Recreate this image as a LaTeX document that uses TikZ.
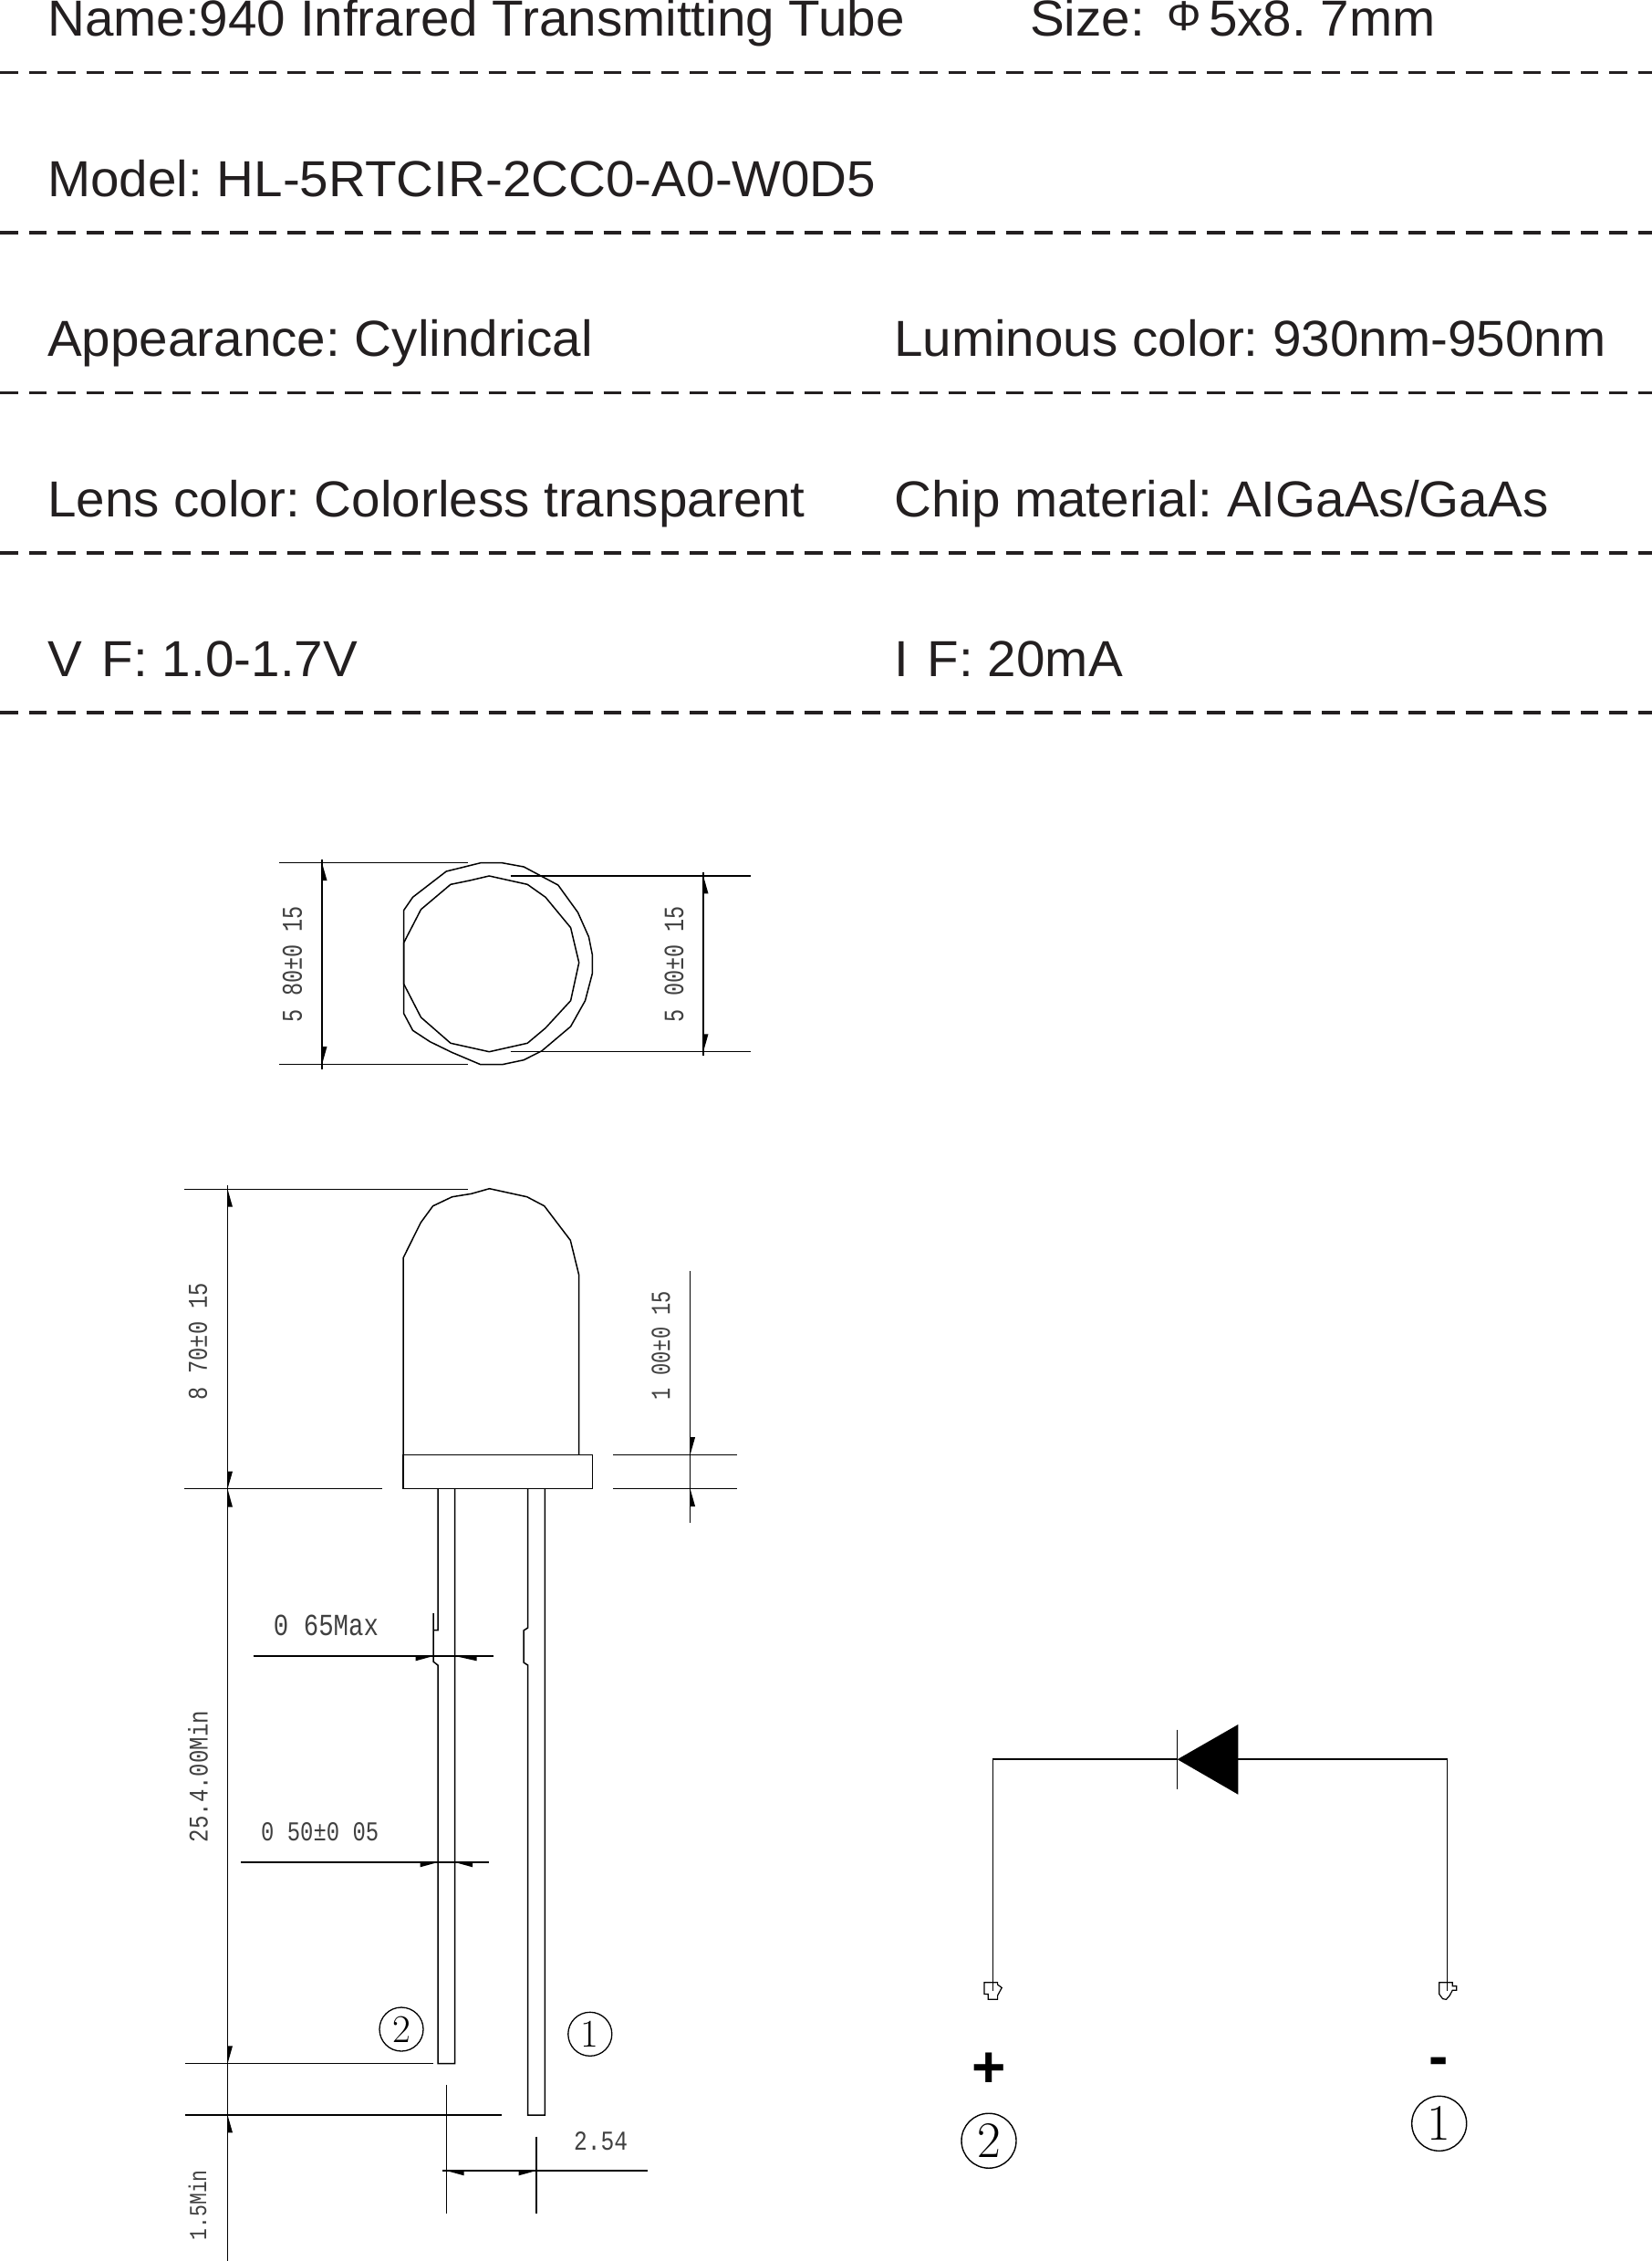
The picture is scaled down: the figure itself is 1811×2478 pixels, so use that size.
\documentclass[tikz,border=0pt]{standalone}
\usepackage{fontspec}
\usepackage{graphicx}
\newfontfamily\headfont[FakeStretch=1.02]{Liberation Sans}
\newfontfamily\markfont{Liberation Sans}
\newfontfamily\cadfont{Liberation Mono}
\definecolor{inkdark}{RGB}{35,31,32}
\newcommand{\cadlabel}[3]{\resizebox{#1pt}{#2pt}{\cadfont #3}}
\tikzset{
    headtext/.style={font=\headfont\fontsize{55.5}{60}\selectfont\frenchspacing, anchor=base west, inner sep=0pt, text=inkdark},
    rowrule/.style={line width=3.4pt, inkdark, dash pattern=on 19.5pt off 12pt},
    bodyline/.style={line width=1.5pt, line join=miter},
    dimline/.style={line width=1.4pt},
    cadtext/.style={inner sep=0pt, text=black!75},
    pinnum/.style={draw, circle, line width=1.3pt, inner sep=0pt, minimum size=48pt, font=\rmfamily\fontsize{43}{43}\selectfont},
    termnum/.style={draw, circle, line width=1.4pt, inner sep=0pt, minimum size=60pt, font=\rmfamily\fontsize{56}{56}\selectfont},
    polmark/.style={inner sep=0pt, font=\markfont\bfseries\fontsize{64}{64}\selectfont},
}
\begin{document}
\begin{tikzpicture}[x=1pt,y=-1pt]
    \useasboundingbox (0,0) rectangle (1811,2478);

    % Header rows
    \node[headtext] (name) at (52,39.5) {Name:940 Infrared Transmitting Tube};
    \node[headtext] (size) at (1129,39.5) {Size:};
    \node[headtext, font=\headfont\fontsize{46}{50}\selectfont] (phi) at (1279,34) {Φ};
    \node[headtext] (sizeval) at (1325,39.5) {5x8. 7mm};
    \node[headtext] (model) at (52,215) {Model: HL-5RTCIR-2CC0-A0-W0D5};
    \node[headtext] (shape) at (52,390.7) {Appearance: Cylindrical};
    \node[headtext] (lumin) at (980,390.7) {Luminous color: 930nm-950nm};
    \node[headtext] (lens) at (52,566.5) {Lens color: Colorless transparent};
    \node[headtext] (chip) at (980,566.5) {Chip material: AIGaAs/GaAs};
    \node[headtext] (vf) at (52,741.7) {V\hspace*{22pt}F: 1.0-1.7V};
    \node[headtext] (if) at (980,741.7) {I\hspace*{21pt}F: 20mA};
    \foreach \ry in {79.3,255,430.5,606,781}
        \draw[rowrule] (0,\ry) -- (1811,\ry);

    % Top view of lens
    \draw[bodyline] (526.8,945.7) -- (550.5,945.7) -- (574.2,950) -- (611.8,970) -- (633.5,1000)
        -- (645.4,1026.7) -- (649.4,1046.7) -- (649.4,1066.7) -- (641.5,1096.7) -- (625.6,1125)
        -- (594,1151.7) -- (574.2,1161.7) -- (550.5,1166.7) -- (526.8,1166.7) -- (495.2,1153.3)
        -- (471.4,1141.7) -- (452.5,1129.3) -- (442.6,1110.7) -- (442.6,997.7) -- (452.5,983.3)
        -- (489.2,955) -- cycle;
    \draw[bodyline] (536.3,960) -- (578.2,969.3) -- (598,983.3) -- (625.6,1016.7) -- (634.7,1055)
        -- (625.6,1096.7) -- (598,1126.7) -- (578.2,1143.3) -- (536.3,1152.7) -- (494,1143.3)
        -- (461.5,1115) -- (442.6,1078.3) -- (442.6,1033.3) -- (461.5,996.7) -- (494,969.3)
        -- (514.9,965) -- cycle;

    % Side view: dome, flange, leads
    \draw[bodyline] (442.2,1594.3) -- (442.2,1378.3) -- (461.2,1340) -- (474.6,1321.7) -- (495.7,1311.7)
        -- (516.7,1308.3) -- (536.5,1302.7) -- (577.7,1311.7) -- (596.7,1321.7) -- (625.3,1359.3)
        -- (634.5,1396.7) -- (634.5,1594.3);
    \draw[bodyline] (442.2,1594.3) rectangle (649.3,1631.7);
    \draw[bodyline] (480,1631.7) -- (480,1786.7) -- (475,1786.7) -- (475,1768) (475,1786.7) -- (475,1821)
        -- (480,1825) -- (480,2261.7) -- (498.7,2261.7) -- (498.7,1631.7);
    \draw[bodyline] (578.7,1631.7) -- (578.7,1784) -- (574,1787) -- (574,1822) -- (578.7,1825)
        -- (578.7,2318) -- (597.4,2318) -- (597.4,1631.7);

    % Extension and dimension lines
    \foreach \xa/\ya/\xb/\yb in {
        306/945.7/513/945.7, 306/1166.7/513/1166.7, 353/941.7/353/1171.7,
        559.6/960/822.6/960, 559.6/1152.7/822.6/1152.7, 771/956/771/1156.7,
        202.4/1303.3/512.5/1303.3, 202.4/1631.7/418.6/1631.7, 249.5/1299.3/249.5/2478,
        672.4/1594.3/808.4/1594.3, 672.4/1631.7/808.4/1631.7, 756.6/1392.7/756.6/1669.3,
        277.7/1815/541/1815, 264/2041/536.3/2041,
        202.5/2261.7/475.4/2261.7, 202.5/2318/550.4/2318,
        489.3/2285/489.3/2425.7, 587.9/2341.7/587.9/2425.7, 485.4/2379/710.4/2379}
        \draw[dimline] (\xa,\ya) -- (\xb,\yb);

    % Half arrow tips on vertical lines
    \foreach \ax/\tip/\base in {
        353/945.7/965, 353/1166.7/1147, 771/960/979.3, 771/1152.7/1133.3,
        249.5/1303.3/1322.7, 249.5/1631.7/1612.7, 249.5/1631.7/1651.7,
        756.6/1594.3/1575, 756.6/1631.7/1651, 249.5/2261.7/2242.3, 249.5/2318/2337.3}
        \fill (\ax,\tip) -- (\ax+5.5,\base) -- (\ax,\base) -- cycle;
    % Half arrow tips on horizontal lines
    \foreach \ay/\tip/\base in {
        1815/475/455.7, 1815/498.7/522.7, 2041/480/460.7, 2041/498.7/518,
        2379/489.3/508.6, 2379/587.9/568.6}
        \fill (\tip,\ay) -- (\base,\ay+5.3) -- (\base,\ay) -- cycle;

    % Dimension texts
    \node[cadtext, rotate=90] (dimlensa) at (320.5,1056.7) {\cadlabel{126.7}{21}{5 80±0 15}};
    \node[cadtext, rotate=90] (dimlensb) at (739,1056.7) {\cadlabel{126.7}{20.6}{5 00±0 15}};
    \node[cadtext, rotate=90] (dimheight) at (217,1470) {\cadlabel{128}{20}{8 70±0 15}};
    \node[cadtext, rotate=90] (dimflange) at (724.6,1474.5) {\cadlabel{119}{20}{1 00±0 15}};
    \node[cadtext, rotate=90] (dimlead) at (217,1947) {\cadlabel{144}{21.5}{25.4.00Min}};
    \node[cadtext, rotate=90] (dimstand) at (216.6,2416.7) {\cadlabel{76.7}{19.5}{1.5Min}};
    \node[cadtext] (dimmax) at (357.5,1781) {\cadlabel{115}{22.5}{0 65Max}};
    \node[cadtext] (dimwire) at (350.7,2008) {\cadlabel{129}{20}{0 50±0 05}};
    \node[cadtext] (dimpitch) at (658.5,2346.7) {\cadlabel{59}{20}{2.54}};

    % Pin numbers on drawing
    \node[pinnum] (pinb) at (440,2224) {2};
    \node[pinnum] (pina) at (646.8,2229.3) {1};

    % Diode symbol
    \coordinate (cathode) at (1290.7,1928.2);
    \coordinate (anode) at (1357.3,1928.2);
    \coordinate (termb) at (1088.6,2182);
    \coordinate (terma) at (1586.5,2182);
    \fill (cathode) -- (1357.3,1890) -- (1357.3,1966.7) -- cycle;
    \draw[bodyline] (1290.7,1895.5) -- (1290.7,1960.9);
    \draw[bodyline] (termb) |- (cathode);
    \draw[bodyline] (terma) |- (anode);

    % Terminals
    \draw[line width=1.2pt] (1079,2172.7) -- (1093.6,2172.7) -- (1093.6,2175) -- (1098.2,2178.5) -- (1093.6,2187)
        -- (1093.6,2191.3) -- (1083.2,2191.3) -- (1083.2,2185.4) -- (1079,2185.4) -- cycle;
    \draw[line width=1.2pt] (1577.7,2172.7) -- (1592.2,2172.7) -- (1592.2,2176.8) -- (1596.8,2176.8) -- (1596.8,2181.3)
        -- (1592.2,2181.3) -- (1589.2,2187) -- (1585.4,2191.3) -- (1581.5,2190.6) -- (1577.7,2185.4) -- cycle;

    % Polarity marks and terminal numbers
    \node[polmark] (plus) at (1084,2269) {+};
    \node[polmark] (minus) at (1577,2265) {-};
    \node[termnum] (numb) at (1084,2346.2) {2};
    \node[termnum] (numa) at (1577.7,2327.3) {1};
\end{tikzpicture}
\end{document}
